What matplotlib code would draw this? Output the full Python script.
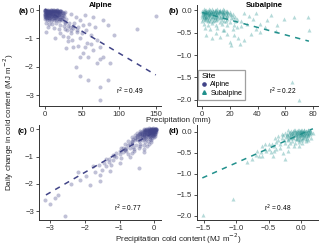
"""Daily change in cold content vs precipitation, alpine and subalpine sites."""

import matplotlib

matplotlib.use("Agg")
import matplotlib.pyplot as plt
from matplotlib.lines import Line2D

plt.rcParams["font.family"] = ["Liberation Sans", "DejaVu Sans"]

ALPINE = "#414487"
SUBALPINE = "#21908C"

# ---- panel (a): alpine, precipitation (mm) vs daily change in cold content
a_precip = [
    0, 1, 2, 3, 4, 5, 6, 7, 8, 9, 10, 11, 12, 13, 14, 15, 16, 17, 18, 19, 20, 22,
    0.5, 1.5, 2.5, 3.5, 4.5, 5.5, 6.5, 7.5, 8.5, 10, 12, 14, 16, 18, 21, 24, 26, 28,
    0, 1, 2, 3, 4, 5, 6, 8, 10, 12, 14, 16, 19, 22, 26,
    1, 2, 4, 6, 8, 10, 12, 15, 18, 21, 25, 29,
    0, 3, 6, 9, 12, 15, 19, 23, 28, 33,
    2, 6, 10, 15, 20, 26, 32, 38,
    5, 12, 19, 27, 35, 43,
    150, 124, 88, 86, 75, 75, 59, 47, 70, 75, 79, 59, 52, 65, 75, 57, 45, 37, 32,
    93, 86, 79, 65, 54, 47, 56, 43, 34, 27, 20, 14, 2, 52, 63, 70, 38, 47, 42, 29,
    40, 45, 50, 36, 30, 48, 60, 42, 35, 38, 55, 62, 68, 25, 31,
]
a_dcc = [
    -0.01, -0.03, -0.02, -0.04, -0.01, -0.03, -0.02, -0.05, -0.01, -0.03, -0.02,
    -0.04, -0.01, -0.03, -0.05, -0.02, -0.04, -0.01, -0.03, -0.06, -0.02, -0.04,
    -0.08, -0.10, -0.07, -0.09, -0.11, -0.08, -0.10, -0.07, -0.12, -0.09, -0.08,
    -0.11, -0.10, -0.07, -0.12, -0.09, -0.11, -0.08,
    -0.15, -0.17, -0.14, -0.18, -0.16, -0.15, -0.19, -0.14, -0.17, -0.16, -0.20,
    -0.15, -0.18, -0.17, -0.21,
    -0.24, -0.26, -0.23, -0.27, -0.25, -0.22, -0.28, -0.24, -0.26, -0.30, -0.27, -0.32,
    -0.33, -0.36, -0.34, -0.38, -0.35, -0.37, -0.40, -0.36, -0.42, -0.45,
    -0.45, -0.48, -0.50, -0.47, -0.52, -0.55, -0.58, -0.62,
    -0.60, -0.64, -0.68, -0.66, -0.72, -0.78,
    -0.21, -0.68, -1.88, -2.47, -3.18, -2.73, -2.47, -2.33, -1.88, -1.74, -1.65,
    -1.65, -1.50, -1.40, -1.30, -1.15, -1.27, -1.06, -0.94,
    -0.88, -0.53, -0.35, -0.24, -0.18, -0.35, -0.71, -0.71, -0.59, -0.47, -0.82,
    -1.00, -0.76, -0.53, -0.88, -1.06, -1.29, -1.65, -2.00, -1.35,
    -0.45, -0.60, -0.80, -0.80, -0.70, -1.00, -0.50, -0.25, -0.15, -0.55, -1.30,
    -1.20, -0.60, -0.90, -1.10,
]
# the saturated block of days near the origin
a_dense_precip = [
    0.5, 2.5, 4.5, 6.5, 8.5, 10.5, 12.5, 14.5, 16.5, 18.5, 20.5, 23,
    1, 3, 5, 7, 9, 11, 13, 15, 17, 19, 21, 24,
    0, 2, 4, 6, 8, 10, 12, 14, 16, 18, 20, 23,
    1.5, 3.5, 5.5, 7.5, 9.5, 11.5, 13.5, 16, 19, 22,
    0, 2, 5, 8, 11, 14, 17, 20,
]
a_dense_dcc = [
    -0.05, -0.06, -0.04, -0.06, -0.05, -0.04, -0.06, -0.05, -0.04, -0.06, -0.05, -0.07,
    -0.13, -0.12, -0.14, -0.13, -0.12, -0.14, -0.13, -0.12, -0.14, -0.13, -0.15, -0.16,
    -0.20, -0.21, -0.19, -0.20, -0.22, -0.19, -0.21, -0.20, -0.22, -0.19, -0.23, -0.24,
    -0.28, -0.27, -0.29, -0.28, -0.30, -0.27, -0.29, -0.31, -0.30, -0.33,
    -0.01, 0.00, -0.02, -0.01, 0.00, -0.02, -0.01, -0.02,
]
a_fit_x = [0, 150]
a_fit_y = [0.03, -2.29]

# ---- panel (b): subalpine, precipitation (mm)
b_precip = [
    0, 1, 2, 3, 4, 5, 6, 7, 8, 9, 10, 11, 12, 13, 14, 15, 16, 17, 18, 20,
    0.5, 1.5, 2.5, 3.5, 4.5, 5.5, 6.5, 7.5, 9, 11, 13, 15, 17, 19, 22,
    0, 1, 2, 3, 4, 5, 6, 8, 10, 12, 14, 16, 18, 21, 24,
    1, 2, 3, 5, 7, 9, 11, 13, 15, 18, 21, 25,
    0, 2, 4, 6, 8, 10, 13, 16, 20, 24,
    1, 4, 7, 10, 14, 18, 23, 28,
    2, 6, 11, 16, 22,
    77, 66, 54, 53, 42, 39, 35, 30, 27, 21, 20, 26, 18, 13, 7, 3, 65, 70,
    47, 37, 32, 25, 42, 59, 76, 22, 30, 39, 28, 34, 45, 15, 10, 23, 50,
]
b_dcc = [
    -0.01, -0.02, 0.00, -0.03, -0.01, -0.02, 0.01, -0.03, -0.01, -0.02, 0.00,
    -0.03, -0.01, -0.02, -0.01, -0.03, 0.00, -0.02, -0.01, -0.03,
    -0.05, -0.06, -0.04, -0.07, -0.05, -0.06, -0.04, -0.07, -0.05, -0.06, -0.04,
    -0.07, -0.05, -0.06, -0.08,
    -0.10, -0.11, -0.09, -0.12, -0.10, -0.11, -0.09, -0.12, -0.10, -0.11, -0.13,
    -0.10, -0.12, -0.11, -0.14,
    -0.16, -0.17, -0.15, -0.18, -0.16, -0.17, -0.15, -0.18, -0.16, -0.19, -0.17, -0.20,
    -0.23, -0.22, -0.25, -0.23, -0.24, -0.22, -0.26, -0.24, -0.27, -0.25,
    -0.30, -0.32, -0.29, -0.33, -0.31, -0.34, -0.32, -0.36,
    -0.40, -0.42, -0.39, -0.44, -0.41,
    -0.43, -0.15, -0.34, -0.46, -0.49, -0.41, -0.52, -0.67, -0.75, -0.78, -0.71,
    -0.63, -0.52, -0.60, -0.63, -0.56, -1.60, -2.01,
    -0.22, -0.19, -0.30, -0.37, -0.30, -0.19, -0.15, -0.15, -0.07, -0.07, -0.25,
    -0.12, -0.38, -0.45, -0.50, -0.55, -0.10,
]
b_dense_precip = [
    0.5, 2, 3.5, 5, 6.5, 8, 9.5, 11, 12.5, 14, 16, 18,
    1, 2.5, 4, 5.5, 7, 8.5, 10, 12, 14, 16, 18, 20,
    0, 1.5, 3, 4.5, 6, 7.5, 9, 11, 13, 15, 17,
    0.5, 2.5, 4.5, 6.5, 8.5, 11, 14, 17,
    1, 3, 5, 7, 9, 11, 13, 15,
]
b_dense_dcc = [
    -0.03, -0.04, -0.02, -0.03, -0.04, -0.02, -0.03, -0.04, -0.02, -0.03, -0.04, -0.03,
    -0.08, -0.07, -0.09, -0.08, -0.07, -0.09, -0.08, -0.07, -0.09, -0.08, -0.10, -0.09,
    -0.14, -0.13, -0.15, -0.14, -0.13, -0.15, -0.14, -0.13, -0.15, -0.14, -0.16,
    -0.20, -0.19, -0.21, -0.20, -0.22, -0.19, -0.21, -0.23,
    0.02, 0.01, 0.02, 0.03, 0.01, 0.02, 0.01, 0.02,
]
b_fit_x = [0, 77]
b_fit_y = [-0.05, -0.69]

# ---- panel (c): alpine, precipitation cold content (MJ m-2)
c_pcc = [
    -0.30, -0.25, -0.20, -0.17, -0.14, -0.11, -0.08, -0.06, -0.04, -0.02, 0.00, 0.02, 0.04, 0.06,
    -0.40, -0.33, -0.27, -0.22, -0.18, -0.14, -0.10, -0.07, -0.04, -0.01, 0.02, 0.05,
    -0.50, -0.42, -0.35, -0.29, -0.24, -0.19, -0.15, -0.11, -0.07, -0.03, 0.00, 0.03,
    -0.55, -0.47, -0.40, -0.34, -0.28, -0.22, -0.17, -0.12, -0.07, -0.02, 0.02,
    -0.65, -0.56, -0.48, -0.40, -0.32, -0.25, -0.18, -0.11, -0.05, 0.00,
    -0.75, -0.65, -0.55, -0.45, -0.35, -0.26, -0.17, -0.08,
    -0.85, -0.74, -0.63, -0.52, -0.40, -0.28, -0.15,
    -0.95, -0.83, -0.70, -0.58, -0.45, -0.30,
    -3.16, -3.02, -2.78, -2.87, -2.59, -2.20, -1.96, -2.15, -1.86, -1.57, -1.52,
    -1.38, -1.77, -1.19, -1.09, -0.85, -0.43, -1.00, -0.71, -0.57, -0.42, -1.57,
    -1.28, -1.00, -0.90, -0.80, -1.15, -1.30, -1.45, -0.65, -0.30, -0.20, -0.10,
    -1.70, -2.40, -1.25, -0.95,
]
c_dcc = [
    0.02, -0.01, 0.01, -0.02, 0.03, 0.00, 0.02, -0.01, 0.01, 0.03, -0.01, 0.02, 0.00, 0.01,
    -0.06, -0.05, -0.07, -0.04, -0.06, -0.05, -0.07, -0.04, -0.06, -0.05, -0.07, -0.04,
    -0.13, -0.12, -0.14, -0.11, -0.13, -0.12, -0.14, -0.11, -0.13, -0.12, -0.14, -0.11,
    -0.20, -0.22, -0.19, -0.21, -0.20, -0.22, -0.19, -0.21, -0.20, -0.22, -0.19,
    -0.30, -0.32, -0.28, -0.31, -0.29, -0.33, -0.30, -0.28, -0.31, -0.29,
    -0.42, -0.44, -0.40, -0.43, -0.41, -0.45, -0.42, -0.40,
    -0.55, -0.57, -0.53, -0.56, -0.54, -0.58, -0.55,
    -0.70, -0.72, -0.68, -0.71, -0.69, -0.73,
    -2.61, -2.76, -2.43, -2.52, -3.18, -1.58, -1.73, -1.87, -2.03, -1.91, -1.48,
    -1.36, -1.36, -1.12, -0.87, -0.75, -1.42, -1.24, -1.00, -0.81, -0.63, -1.66,
    -1.54, -0.90, -0.82, -0.68, -0.98, -1.10, -1.25, -0.88, -0.85, -0.60, -0.45,
    -1.55, -2.00, -1.30, -1.05,
]
c_dense_pcc = [
    -0.22, -0.16, -0.12, -0.09, -0.05, -0.03, 0.00, 0.03, 0.05, 0.07,
    -0.30, -0.20, -0.15, -0.12, -0.08, -0.05, -0.02, 0.01, 0.04, 0.07,
    -0.38, -0.30, -0.25, -0.20, -0.16, -0.12, -0.08, -0.05, -0.02, 0.02, 0.05,
    -0.45, -0.36, -0.30, -0.25, -0.20, -0.15, -0.10, -0.05, 0.00, 0.04,
    -0.50, -0.42, -0.35, -0.28, -0.22, -0.15, -0.09, -0.03, 0.02,
    -0.60, -0.50, -0.40, -0.30, -0.22, -0.13,
    -1.40, -1.20, -1.10, -0.90, -0.80, -0.70, -0.75, -1.30, -1.60, -0.60, -1.00, -0.65,
]
c_dense_dcc = [
    0.00, 0.01, -0.01, 0.02, 0.00, 0.01, -0.01, 0.02, 0.00, 0.01,
    -0.04, -0.03, -0.05, -0.04, -0.03, -0.05, -0.04, -0.03, -0.05, -0.04,
    -0.10, -0.09, -0.11, -0.10, -0.09, -0.11, -0.10, -0.09, -0.11, -0.10, -0.09,
    -0.17, -0.16, -0.18, -0.17, -0.16, -0.18, -0.17, -0.16, -0.18, -0.17,
    -0.25, -0.24, -0.26, -0.25, -0.24, -0.26, -0.25, -0.24, -0.26,
    -0.36, -0.35, -0.37, -0.36, -0.35, -0.37,
    -1.10, -0.95, -1.00, -0.70, -0.80, -0.55, -0.90, -1.20, -1.30, -0.65, -0.78, -0.45,
]
c_fit_x = [-3.13, 0.09]
c_fit_y = [-2.41, -0.04]

# ---- panel (d): subalpine, precipitation cold content (MJ m-2)
d_pcc = [
    -0.20, -0.15, -0.11, -0.07, -0.04, -0.01, 0.02, 0.05, 0.08, 0.11, 0.14,
    -0.25, -0.19, -0.14, -0.10, -0.06, -0.03, 0.00, 0.03, 0.06, 0.09, 0.12, 0.15,
    -0.28, -0.22, -0.17, -0.12, -0.08, -0.04, -0.01, 0.02, 0.05, 0.08, 0.11,
    -0.30, -0.23, -0.17, -0.12, -0.07, -0.03, 0.01, 0.05, 0.09,
    -0.27, -0.20, -0.14, -0.08, -0.03, 0.02, 0.07,
    -0.25, -0.17, -0.10, -0.04, 0.02,
    -0.20, -0.11, -0.03,
    -1.51, -1.05, -0.84, -0.76, -0.65, -0.60, -0.54, -0.46, -0.38, -0.33, -0.25,
    -0.68, -0.60, -0.49, -0.44, -0.28, 0.18, 0.15, -0.17, -0.36, -0.50, -0.42,
    -0.70, 0.12, -0.40, -0.55, -0.20, 0.10,
]
d_dcc = [
    0.03, 0.01, 0.04, 0.02, 0.05, 0.01, 0.03, 0.04, 0.02, 0.05, 0.03,
    -0.03, -0.02, -0.04, -0.01, -0.03, -0.02, -0.04, -0.01, -0.03, -0.02, -0.04, -0.01,
    -0.08, -0.07, -0.09, -0.06, -0.08, -0.07, -0.09, -0.06, -0.08, -0.07, -0.09,
    -0.14, -0.13, -0.15, -0.12, -0.14, -0.13, -0.15, -0.12, -0.14,
    -0.20, -0.19, -0.21, -0.18, -0.20, -0.19, -0.21,
    -0.27, -0.26, -0.28, -0.25, -0.27,
    -0.34, -0.33, -0.35,
    -1.98, -1.59, -0.71, -0.65, -0.57, -0.59, -0.47, -0.49, -0.42, -0.39, -0.65,
    -0.47, -0.35, -0.29, -0.59, -0.51, -0.04, -0.16, -0.12, -0.20, -0.40, -0.33,
    -0.55, 0.05, -0.15, -0.30, -0.45, -0.20,
]
d_dense_pcc = [
    -0.17, -0.12, -0.08, -0.05, -0.02, 0.01, 0.04, 0.07, 0.10, 0.13,
    -0.22, -0.16, -0.12, -0.08, -0.05, -0.02, 0.01, 0.04, 0.07, 0.10, 0.13,
    -0.20, -0.14, -0.10, -0.06, -0.02, 0.02, 0.06, 0.10,
    -0.20, -0.13, -0.07, -0.02, 0.03, 0.08,
    -0.10, -0.05, 0.00, 0.05, 0.10,
    -0.45, -0.38, -0.32, -0.55, -0.35, -0.30, -0.42, -0.62,
]
d_dense_dcc = [
    0.00, 0.01, -0.01, 0.00, 0.01, -0.01, 0.00, 0.01, -0.01, 0.00,
    -0.05, -0.06, -0.04, -0.05, -0.06, -0.04, -0.05, -0.06, -0.04, -0.05, -0.06,
    -0.10, -0.11, -0.09, -0.10, -0.11, -0.09, -0.10, -0.11,
    -0.17, -0.16, -0.18, -0.17, -0.16, -0.18,
    0.04, 0.05, 0.03, 0.04, 0.05,
    -0.30, -0.25, -0.30, -0.42, -0.10, -0.05, -0.45, -0.48,
]
d_fit_x = [-1.52, 0.18]
d_fit_y = [-1.10, 0.07]

r2_labels = ["0.49", "0.22", "0.77", "0.48"]
sites = ["Alpine", "Subalpine"]


def style_axis(ax, xlim, ylim, xticks, xlabels, yticks, ylabels):
    ax.set_xlim(xlim)
    ax.set_ylim(ylim)
    ax.set_xticks(xticks, xlabels)
    ax.set_yticks(yticks, ylabels)
    for side in ("top", "right"):
        ax.spines[side].set_visible(False)
    for side in ("left", "bottom"):
        ax.spines[side].set_color("#333333")
        ax.spines[side].set_linewidth(0.7)
    ax.tick_params(length=2.2, width=0.6, color="#333333", labelsize=5.6,
                   labelcolor="#333333", pad=1.5)


def draw(ax, x, y, dx, dy, fx, fy, color, marker, r2, r2x, r2y):
    ax.scatter(x + dx, y + dy, s=8.5, marker=marker, color=color, alpha=0.33, linewidths=0)
    ax.plot(fx, fy, color=color, lw=1.1, ls=(0, (3.5, 3.5)))
    ax.text(r2x, r2y, f"r$^2$ = {r2}", fontsize=4.8, ha="center", va="center")


fig = plt.figure(figsize=(3.2, 2.45), dpi=100)
ax_a = fig.add_axes([0.122, 0.567, 0.381, 0.413])
ax_b = fig.add_axes([0.616, 0.567, 0.378, 0.413])
ax_c = fig.add_axes([0.122, 0.102, 0.381, 0.388])
ax_d = fig.add_axes([0.616, 0.102, 0.378, 0.388])

draw(ax_a, a_precip, a_dcc, a_dense_precip, a_dense_dcc, a_fit_x, a_fit_y,
     ALPINE, "o", r2_labels[0], 115, -2.88)
draw(ax_b, b_precip, b_dcc, b_dense_precip, b_dense_dcc, b_fit_x, b_fit_y,
     SUBALPINE, "^", r2_labels[1], 58, -1.8)
draw(ax_c, c_pcc, c_dcc, c_dense_pcc, c_dense_dcc, c_fit_x, c_fit_y,
     ALPINE, "o", r2_labels[2], -0.75, -2.92)
draw(ax_d, d_pcc, d_dcc, d_dense_pcc, d_dense_dcc, d_fit_x, d_fit_y,
     SUBALPINE, "^", r2_labels[3], -0.36, -1.83)

style_axis(ax_a, (-7.7, 157), (-3.39, 0.18), [0, 50, 100, 150], ["0", "50", "100", "150"],
           [0, -1, -2, -3], ["0", "\u22121", "\u22122", "\u22123"])
style_axis(ax_b, (-3.6, 83.6), (-2.14, 0.12), [0, 20, 40, 60, 80], ["0", "20", "40", "60", "80"],
           [0, -0.5, -1, -1.5, -2],
           ["0.0", "\u22120.5", "\u22121.0", "\u22121.5", "\u22122.0"])
style_axis(ax_c, (-3.33, 0.2), (-3.33, 0.16), [-3, -2, -1, 0],
           ["\u22123", "\u22122", "\u22121", "0"],
           [0, -1, -2, -3], ["0", "\u22121", "\u22122", "\u22123"])
style_axis(ax_d, (-1.6, 0.26), (-2.1, 0.16), [-1.5, -1, -0.5, 0],
           ["\u22121.5", "\u22121.0", "\u22120.5", "0.0"],
           [0, -0.5, -1, -1.5, -2],
           ["0.0", "\u22120.5", "\u22121.0", "\u22121.5", "\u22122.0"])

# site titles and panel letters
fig.text(0.313, 0.978, "Alpine", fontsize=5.6, fontweight="bold", ha="center", va="center")
fig.text(0.825, 0.978, "Subalpine", fontsize=5.6, fontweight="bold", ha="center", va="center")
for label, (px, py) in zip(["(a)", "(b)", "(c)", "(d)"],
                           [(0.09, 0.955), (0.56, 0.955), (0.084, 0.465), (0.56, 0.462)]):
    fig.text(px, py, label, fontsize=5.8, fontweight="bold", ha="right", va="center")

fig.text(0.557, 0.507, "Precipitation (mm)", fontsize=5.8, ha="center", va="center",
         color="#222222")
fig.text(0.557, 0.027, "Precipitation cold content (MJ m$^{-2}$)", fontsize=5.8,
         ha="center", va="center", color="#222222")
fig.text(0.028, 0.5, "Daily change in cold content (MJ m$^{-2}$)", fontsize=5.8,
         rotation=90, ha="center", va="center", color="#222222")

handles = [
    Line2D([], [], marker="o", ls="", color=ALPINE, markersize=2.3),
    Line2D([], [], marker="^", ls="", color=SUBALPINE, markersize=2.6),
]
leg = ax_b.legend(handles, sites, title="Site", loc="lower left",
                  bbox_to_anchor=(0.01, 0.06), fontsize=5.2, title_fontsize=6,
                  frameon=True, fancybox=False, handlelength=0.8, handletextpad=0.4,
                  borderpad=0.45, labelspacing=0.2, borderaxespad=0.0)
leg.get_frame().set_edgecolor("#888888")
leg.get_frame().set_linewidth(0.9)
leg._legend_box.align = "left"

fig.savefig("out.png", dpi=100)
